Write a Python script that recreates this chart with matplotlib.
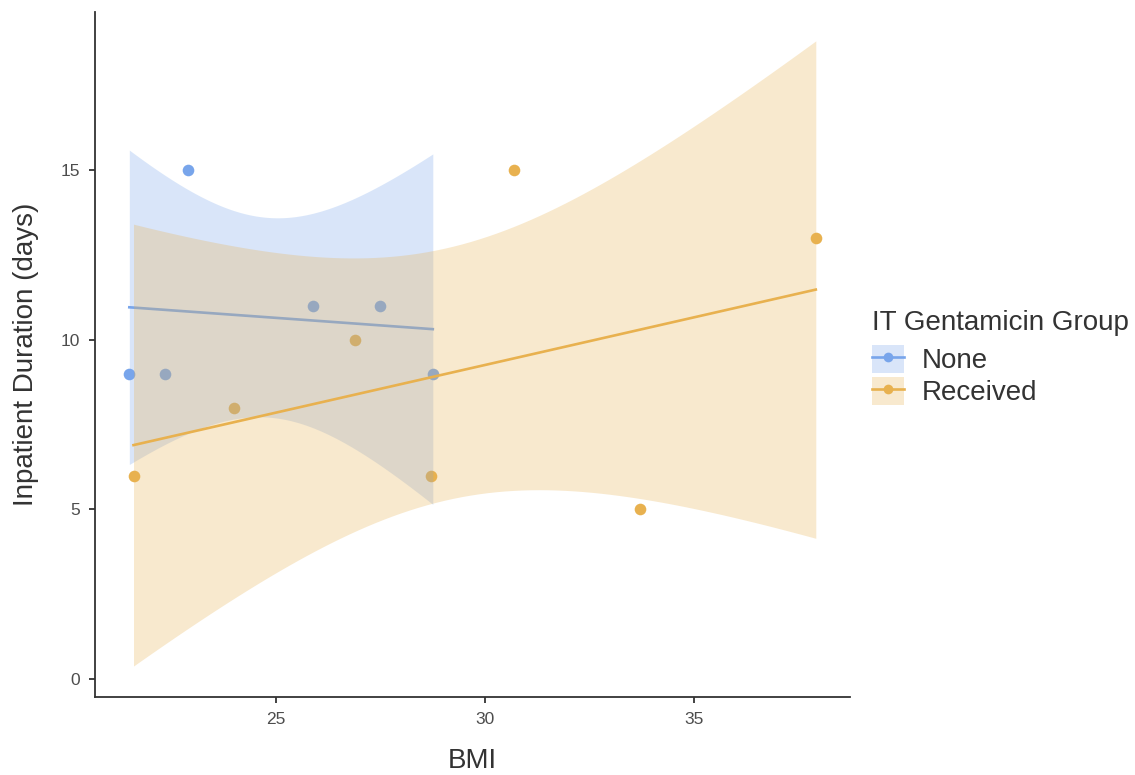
"""BMI vs inpatient duration, split by IT gentamicin group, with linear fits."""

import numpy as np
import matplotlib
matplotlib.use("Agg")
import matplotlib.pyplot as plt
from matplotlib.patches import Patch
from matplotlib.lines import Line2D

plt.rcParams["font.family"] = ["Liberation Sans", "DejaVu Sans"]

# data
none_bmi = [21.5, 22.35, 22.9, 25.9, 27.5, 28.75]
none_days = [9, 9, 15, 11, 11, 9]
recv_bmi = [21.6, 24.0, 26.9, 28.7, 30.7, 33.7, 37.9]
recv_days = [6, 8, 10, 6, 15, 5, 13]

groups = ["None", "Received"]
colors = ["#78A5EB", "#E8B14F"]
t_crit = {4: 2.776, 5: 2.571}  # 95% t quantiles for the lm bands

BAND_ALPHA = 0.28


def fit_band(x, y):
    """Linear fit with 95% confidence band, like geom_smooth(method='lm')."""
    x = np.asarray(x, float)
    y = np.asarray(y, float)
    n = len(x)
    slope, icpt = np.polyfit(x, y, 1)
    resid = y - (slope * x + icpt)
    s = np.sqrt(np.sum(resid ** 2) / (n - 2))
    xs = np.linspace(x.min(), x.max(), 80)
    fit = slope * xs + icpt
    se = s * np.sqrt(1 / n + (xs - x.mean()) ** 2 / np.sum((x - x.mean()) ** 2))
    half = t_crit[n - 2] * se
    return xs, fit, fit - half, fit + half


fig = plt.figure(figsize=(11.35, 7.75), dpi=100)
ax = fig.add_axes([0.0837, 0.1006, 0.6653, 0.884])

# points first, smooths on top (ggplot layer order)
ax.scatter(none_bmi, none_days, s=70, color=colors[0], linewidths=0, zorder=1)
ax.scatter(recv_bmi, recv_days, s=70, color=colors[1], linewidths=0, zorder=1)

z = 2
for (bx, by), col in zip([(none_bmi, none_days), (recv_bmi, recv_days)], colors):
    xs, fit, lo, hi = fit_band(bx, by)
    ax.fill_between(xs, lo, hi, color=col, alpha=BAND_ALPHA, linewidth=0, zorder=z)
    ax.plot(xs, fit, color=col, linewidth=1.9, zorder=z + 1)
    z += 2

ax.set_xlim(20.68, 38.72)
ax.set_ylim(-0.53, 19.67)
ax.set_xticks([25, 30, 35])
ax.set_yticks([0, 5, 10, 15])

for side in ["top", "right"]:
    ax.spines[side].set_visible(False)
for side in ["left", "bottom"]:
    ax.spines[side].set_color("#333333")
    ax.spines[side].set_linewidth(1.3)
ax.tick_params(axis="both", colors="#333333", labelcolor="#4D4D4D",
               labelsize=12.5, length=4, width=1.3, pad=7)

ax.set_xlabel("BMI", fontsize=20, color="#333333", labelpad=15)
ax.set_ylabel("Inpatient Duration (days)", fontsize=20, color="#333333", labelpad=15)

handles = []
for col in colors:
    bg = Patch(facecolor=col, alpha=BAND_ALPHA, edgecolor="none")
    ln = Line2D([], [], color=col, linewidth=1.9, marker="o", markersize=7,
                markeredgewidth=0)
    handles.append((bg, ln))

leg = fig.legend(handles, groups, title="IT Gentamicin Group",
                 loc="upper left", bbox_to_anchor=(0.768, 0.600),
                 frameon=False, fontsize=20, title_fontsize=20,
                 handlelength=1.15, handleheight=1.15, handletextpad=0.65,
                 labelspacing=0.1, borderaxespad=0, borderpad=0)
leg._legend_box.align = "left"
leg._legend_box.sep = 6.5  # a bit more room under the title
for t in leg.get_texts():
    t.set_color("#333333")
leg.get_title().set_color("#333333")

fig.savefig("out.png", dpi=100, facecolor="white")
